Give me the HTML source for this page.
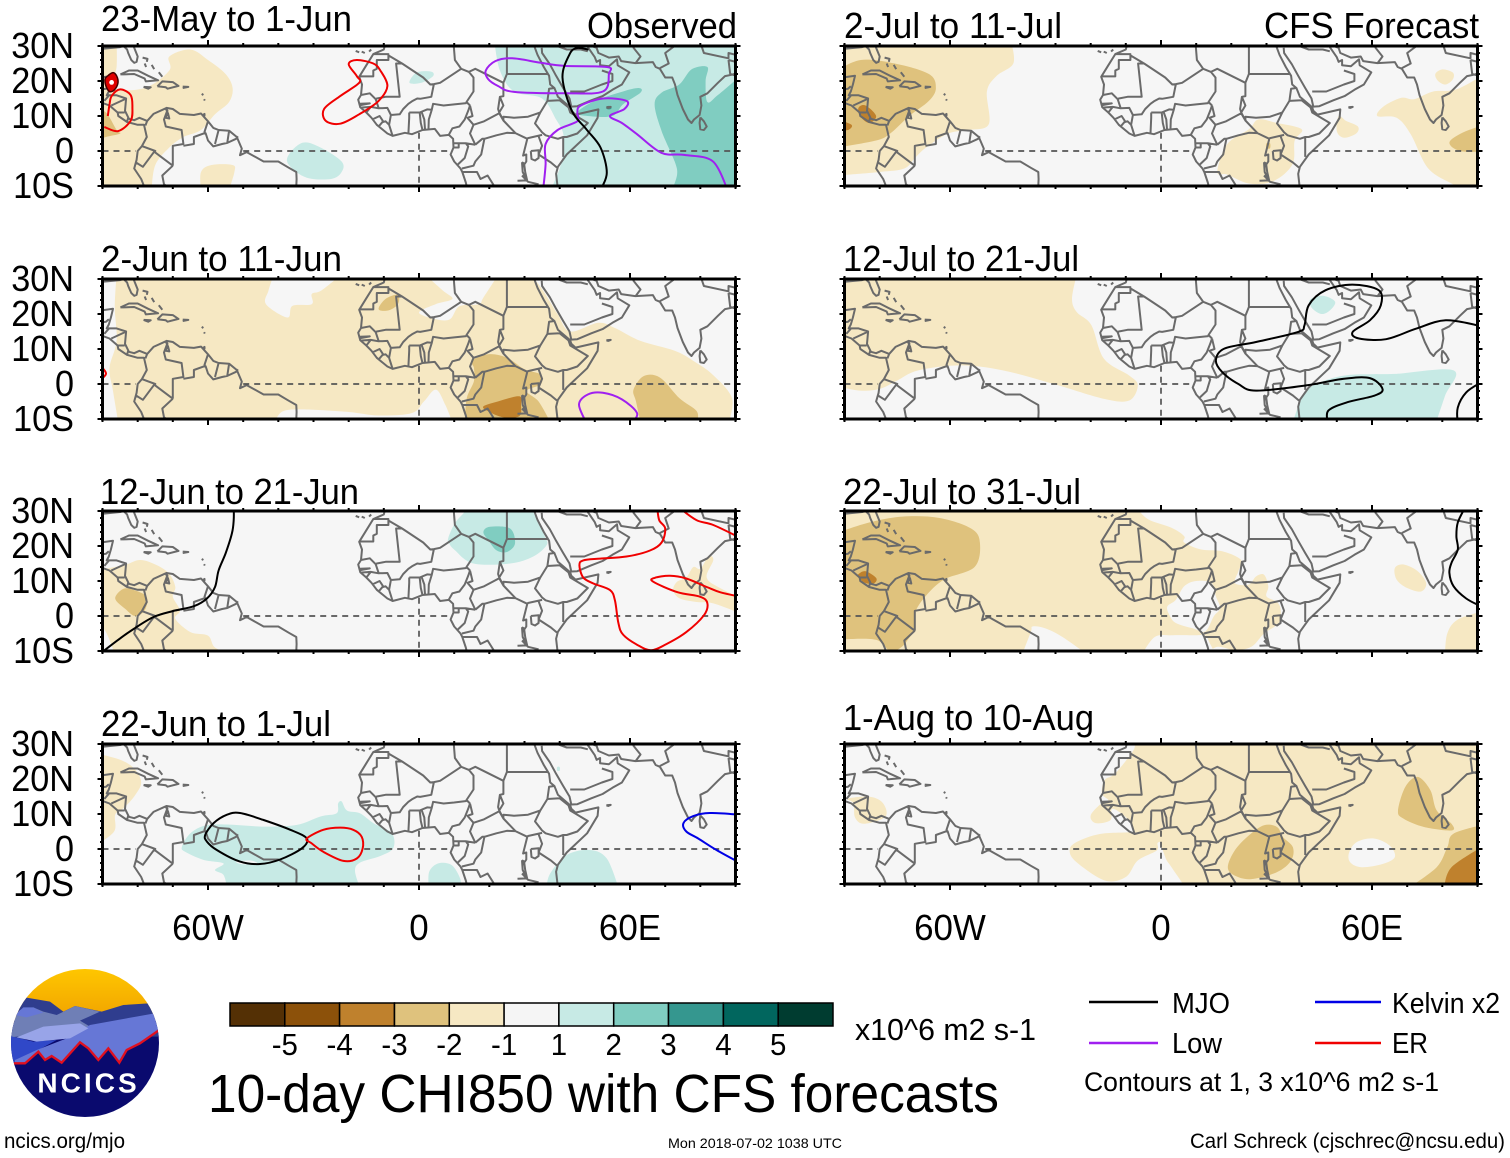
<!DOCTYPE html>
<html lang="en">
<head>
<meta charset="utf-8">
<title>10-day CHI850 with CFS forecasts</title>
<style>
html,body{margin:0;padding:0;background:#fff;}
svg{display:block;font-family:"Liberation Sans",sans-serif;}
</style>
</head>
<body>
<svg id="chart" xmlns="http://www.w3.org/2000/svg" width="1510" height="1158" viewBox="0 0 1510 1158">
  <defs>
    <clipPath id="logo-clip"><circle cx="85" cy="1043" r="74"/></clipPath>
    <linearGradient id="sun-gradient" x1="0" y1="0" x2="0" y2="1">
      <stop offset="0" stop-color="#ffc800"/><stop offset="1" stop-color="#f0a000"/>
    </linearGradient>
  </defs>
  <rect width="1510" height="1158" fill="#fff"/>
  <g id="panels"></g>

  <g font-size="36" fill="#000">
    <text x="101" y="31" textLength="251" lengthAdjust="spacingAndGlyphs">23-May to 1-Jun</text>
    <text x="587" y="38" textLength="150" lengthAdjust="spacingAndGlyphs">Observed</text>
    <text x="101" y="271" textLength="241" lengthAdjust="spacingAndGlyphs">2-Jun to 11-Jun</text>
    <text x="100" y="504" textLength="259" lengthAdjust="spacingAndGlyphs">12-Jun to 21-Jun</text>
    <text x="101" y="736" textLength="230" lengthAdjust="spacingAndGlyphs">22-Jun to 1-Jul</text>
    <text x="844" y="38" textLength="218" lengthAdjust="spacingAndGlyphs">2-Jul to 11-Jul</text>
    <text x="1264" y="38" textLength="215" lengthAdjust="spacingAndGlyphs">CFS Forecast</text>
    <text x="843" y="271" textLength="236" lengthAdjust="spacingAndGlyphs">12-Jul to 21-Jul</text>
    <text x="843" y="504" textLength="238" lengthAdjust="spacingAndGlyphs">22-Jul to 31-Jul</text>
    <text x="843" y="730" textLength="251" lengthAdjust="spacingAndGlyphs">1-Aug to 10-Aug</text>
  </g>

  <g id="colorbar"></g>
  <text x="855" y="1040" font-size="31" textLength="181" lengthAdjust="spacingAndGlyphs">x10^6 m2 s-1</text>
  <text x="208" y="1112" font-size="54" textLength="791" lengthAdjust="spacingAndGlyphs">10-day CHI850 with CFS forecasts</text>

  <g font-size="29">
    <line x1="1089" y1="1002" x2="1158" y2="1002" stroke="#000" stroke-width="2.4"/>
    <text x="1172" y="1013" textLength="58" lengthAdjust="spacingAndGlyphs">MJO</text>
    <line x1="1315" y1="1002" x2="1381" y2="1002" stroke="#0000e6" stroke-width="2.4"/>
    <text x="1392" y="1013" textLength="108" lengthAdjust="spacingAndGlyphs">Kelvin x2</text>
    <line x1="1089" y1="1043" x2="1158" y2="1043" stroke="#a020f0" stroke-width="2.4"/>
    <text x="1172" y="1053" textLength="50" lengthAdjust="spacingAndGlyphs">Low</text>
    <line x1="1315" y1="1043" x2="1381" y2="1043" stroke="#f00000" stroke-width="2.4"/>
    <text x="1392" y="1053" textLength="36" lengthAdjust="spacingAndGlyphs">ER</text>
    <text x="1084" y="1091" font-size="27" textLength="355" lengthAdjust="spacingAndGlyphs">Contours at 1, 3 x10^6 m2 s-1</text>
  </g>

  <text x="4" y="1148" font-size="21" textLength="121" lengthAdjust="spacingAndGlyphs">ncics.org/mjo</text>
  <text x="668" y="1148" font-size="14" textLength="174" lengthAdjust="spacingAndGlyphs">Mon 2018-07-02 1038 UTC</text>
  <text x="1190" y="1148" font-size="21" textLength="315" lengthAdjust="spacingAndGlyphs">Carl Schreck (cjschrec@ncsu.edu)</text>

  <g>
    <g clip-path="url(#logo-clip)">
      <g transform="translate(0,960) scale(0.33333)">
        <rect x="20" y="20" width="470" height="170" fill="url(#sun-gradient)"/>
        <rect x="20" y="180" width="470" height="300" fill="#0a0a6e"/>
        <path fill="#2f3d8e" d="M30 240L60 135 75 112 150 125 190 155 225 138 305 155 370 135 445 130 480 180 480 230 250 230Z"/>
        <path fill="#6f7fb6" d="M32 232L45 170 60 150 100 142 130 155 170 165 225 138 300 155 240 182 270 200 100 225Z"/>
        <path fill="#3048c8" d="M30 228L100 245 170 240 50 305 30 310Z"/>
        <path fill="#6677d6" d="M45 300L110 270 200 235 270 195 380 175 465 160 480 212 420 250 380 272 358 308 325 265 295 300 265 265 240 247 185 308 155 288 135 300 115 275 75 310 45 310Z"/>
        <path fill="#98a4e8" d="M50 232L130 200 240 190 265 205 210 235 110 245Z"/>
        <path fill="#6677d6" d="M45 165L70 142 100 142 130 158 80 172Z"/>
        <path fill="none" stroke="#e01020" stroke-width="7" d="M42 310L75 310 115 275 135 300 155 288 185 308 240 247 265 265 295 300 325 265 358 308 380 270 420 250 478 210"/>
        <text x="112" y="398" font-size="84" font-weight="bold" fill="#fff" textLength="298" lengthAdjust="spacing">NCICS</text>
      </g>
    </g>
  </g>
</svg>

<script>
// ---------- axis values ----------
const lonTicks = [-60, 0, 60];
const lonTickLabels = ['60W', '0', '60E'];
const latTicks = [30, 20, 10, 0, -10];
const latTickLabels = ['30N', '20N', '10N', '0', '10S'];
const colorbarLabels = ['-5', '-4', '-3', '-2', '-1', '1', '2', '3', '4', '5'];
const colorbarColors = ['#543005', '#8c510a', '#bf812d', '#dfc27d', '#f6e8c3', '#f5f5f5', '#c7eae5', '#80cdc1', '#35978f', '#01665e', '#003c30'];
const equatorSegments = [[-90, -80.5], [-50, 9], [43, 90]];
const meridianSegment = [5.2, -10];

// ---------- geography (lon, lat) ----------
const coastAmericasNorth = [[-94,29.7],[-90,29.2],[-85,29.7],[-84,30],[-83,29],[-82.7,28],[-81.8,26],[-81,25.2],[-80.3,25.5],[-80,27],[-81,29.5],[-81.4,31]];
const coastCentralCarib = [[-97,22],[-96,19],[-94.5,18.2],[-91,18.6],[-90.4,21],[-87,21.5],[-87.6,19],[-88.2,17],[-88.8,15.9],[-86,15.9],[-83.3,15],[-83.6,11.5],[-82.5,9.2],[-81,8.8],[-79.5,9.5],[-77.3,8.6],[-75.5,10.6],[-72,12.2],[-71.5,10.9],[-71.8,12.3],[-70,12],[-68,10.6],[-64,10.3],[-62,10.7],[-61,9.6],[-60,8.5],[-58.5,6.6],[-57,6],[-54,5.8],[-51.8,4],[-50.4,0.7],[-50.9,-1.2],[-49,-0.3],[-44.2,-3],[-40,-3],[-37,-4.8],[-34.9,-6],[-34.8,-8],[-34.9,-10],[-37,-12]];
const coastPacificAmerica = [[-97,16],[-94,16.1],[-92,14.5],[-88,13],[-85.7,11],[-85.5,10],[-83,8.3],[-80,7.5],[-78.2,7.5],[-77.4,4],[-78.8,1.4],[-80,0],[-80.3,-2.5],[-81,-5],[-79,-8],[-78,-10.5]];
const coastAfricaWest = [[-9.5,31],[-10,29],[-13,27.7],[-15,24.5],[-17,21.2],[-16.2,19],[-16.5,16],[-17.3,14.7],[-16.7,12.5],[-15,11],[-13.5,9.5],[-12,7.5],[-9,5],[-7.5,4.3],[-4,5.2],[-2,4.8],[1,6],[4.5,6.3],[6,4.3],[8.5,4.6],[9.7,3.5],[9.8,1],[9,-1],[10,-3],[11.8,-5],[12.3,-6],[13.3,-9],[13.8,-11]];
const coastAfricaEast = [[32.6,30.5],[33.7,27.5],[35.5,24],[37,21.5],[37.3,19],[38.5,18],[39.5,15.5],[43,12.5],[43.3,11.5],[44.5,10.4],[51,11.9],[50.8,9.5],[47.8,4.5],[42,-1],[39.5,-4.5],[39,-6.5],[39.5,-11]];
const coastArabia = [[34.9,29.5],[35,28],[37.2,24.8],[39,21.5],[41,18],[42.8,15],[43.3,12.7],[45,12.8],[49,14.5],[52.2,15.7],[55,17.5],[57.7,19],[59.8,22.5],[56.5,24.5],[56.3,26.2],[54,24.2],[51.5,24.5],[51.5,26],[50.5,25.5],[50,26.8],[48,29.7]];
const coastIranIndia = [[48.5,30.2],[50.5,29.5],[51,28],[54,26.7],[56.8,27],[57.5,25.7],[61.5,25.1],[66.5,25.4],[67.3,24],[68.5,23.5],[70,21],[72,21],[72.8,19],[73.5,16],[75,12],[76.5,9],[77.5,8],[78.2,9],[79.8,10.3],[80.3,13],[80,15.5],[82,16.5],[85,19.5],[87,21.4],[89,21.8],[91,22.5],[92,21],[94,18],[94.5,16]];
const islandSriLanka = [[80,9.6],[81,8.5],[81.8,7],[81,6],[80,6.2],[79.8,8],[80,9.6]];
const islandCuba = [[-84.9,21.9],[-82.5,23],[-80,23],[-77,21.5],[-74.2,20.2],[-77.7,19.9],[-78,20.7],[-81,22],[-84,21.9],[-84.9,21.9]];
const islandJamaica = [[-78.3,18.3],[-76.3,18.2],[-77,17.8],[-78.3,18.3]];
const islandHispaniola = [[-74.4,18.5],[-73,19.9],[-70,19.7],[-68.4,18.6],[-71.5,17.8],[-72,18.2],[-74.4,18.5]];
const islandPuertoRico = [[-67.2,18.4],[-65.6,18.3],[-67.2,18]];
const islandBahamas1 = [[-78.6,26.7],[-77.2,26.3],[-77.4,25.5]];
const islandBahamas2 = [[-78,25],[-77.6,24]];
const islandBahamas3 = [[-76,24.6],[-75.3,23.4]];
const islandBahamas4 = [[-74,22.5],[-73,21.2]];
const islandAntilles1 = [[-61.8,16.3],[-61.3,16]];
const islandAntilles2 = [[-61.1,14.8],[-60.9,14.4]];
const islandTrinidad = [[-61.6,10.2],[-61,10.6],[-61,10.1],[-61.6,10.2]];
const islandCanary1 = [[-18,28.6],[-17,28.2]];
const islandCanary2 = [[-16.3,28.4],[-15.4,28]];
const islandCanary3 = [[-14.2,28.4],[-13.6,29]];
const islandSocotra = [[53.3,12.5],[54.5,12.6],[53.8,12.3],[53.3,12.5]];
const lakeMaracaibo = [[-71.5,10.9],[-72,9.5],[-71,9.3],[-71.4,10.9]];
const lakeVictoria = [[31.8,0],[34,0.2],[34,-2],[33,-2.7],[32,-2.3],[31.8,0]];
const lakeTanganyika = [[29.3,-3.2],[29.5,-6],[30.8,-8.6],[30.2,-6],[29.9,-3.6],[29.3,-3.2]];
const borderList = [
  [[-13,27.7],[-8.7,27.7],[-8.7,26],[-12,26],[-12,23.5],[-13,23],[-13,21.3],[-17,21.3]],
  [[-8.7,27.3],[-4.8,25],[-6.5,25],[-5.5,15.5],[-9.5,15.5],[-12,15],[-12.3,14.8],[-14,16.5],[-16.5,16]],
  [[-4.8,25],[1.2,21],[3.2,19],[4.2,19.1],[6,19.5],[12,23.5],[10.2,26],[9.8,31]],
  [[12,23.5],[14.2,22.6],[15.5,21],[15.5,17],[13.5,14],[14.5,13]],
  [[14.2,22.6],[16,23.5],[24,19.5],[24,15.7],[23,15.5],[22.5,12],[22.8,11],[24,8.7]],
  [[25,31],[25,22],[24,19.5]],
  [[25,22],[36.8,22]],
  [[4.2,19],[3.5,15.5],[0.3,14.9],[-0.5,15],[-2,14.2],[-3,13.5],[-4.5,12],[-5.5,10.5],[-8,10.3]],
  [[3.6,11.7],[4,13.5],[7,13],[10,13.3],[13.5,13.7]],
  [[2.7,6.4],[2.8,9],[3.6,11.7]],
  [[8.5,4.7],[9.5,6.5],[11.5,7],[13,9],[14,11.5],[14.5,13]],
  [[-3,5],[-2.8,9.5],[-2.8,11]],
  [[1,6],[0.5,8],[0.2,11]],
  [[-2.8,11],[0.2,11],[2.3,11.9],[3.6,11.8]],
  [[1.7,6.2],[1.5,9],[0.8,11]],
  [[-7.5,4.3],[-8.5,7.5],[-8,10.3]],
  [[-13.3,9],[-11.2,10],[-10.2,8.5],[-11.5,7]],
  [[-8.5,7.5],[-9.5,8.5],[-10.3,8.3]],
  [[-13.7,12.6],[-11.5,12.2],[-9,12.3],[-8,10.3]],
  [[-16.8,13.5],[-14,13.6],[-16.7,13.1]],
  [[-16.7,12.4],[-13.7,12.6],[-15,11]],
  [[-12.3,14.8],[-11.5,12.3]],
  [[14.5,13],[15.2,10],[13.8,9.5],[15.5,7.5],[14.5,5],[16,1.8]],
  [[15.5,7.5],[18.5,8.5],[22.8,10.8]],
  [[9.8,2.2],[13.3,2.2],[16,1.8]],
  [[9.8,1],[11.3,1],[11.3,2.2]],
  [[13.3,2.2],[14,1.3],[13,-2],[11,-3.9]],
  [[16,1.8],[18,3.5],[18.6,3.5],[17.7,-1],[16,-3],[15.5,-4.2],[12.2,-5]],
  [[18.6,3.5],[22,4.5],[25,5.2],[27.4,5.1],[30.8,3.5],[29.6,-1.3],[30.5,-1],[30.5,-3],[29.5,-4.5]],
  [[22.8,10.8],[24,8.7],[27.4,5.1]],
  [[24,8.7],[24,9.8],[27,9.5],[31,9.8],[33,10.5],[34.5,11]],
  [[23,15.5],[24,13],[22.8,11]],
  [[36.5,14.3],[34.5,11],[33,7.9],[35,5.3],[36,4.5],[39.5,3.5],[41,4],[42,4],[45,5],[48,8],[43,11],[42.5,12.5],[40,14.5],[36.5,14.3]],
  [[36.5,14.3],[37,17.8],[38.5,18]],
  [[41,3.9],[41,-1.7]],
  [[34,4.2],[35,1.5],[34,-1]],
  [[34,-1],[37.5,-3.3],[39.2,-4.7]],
  [[35,4.6],[31,3.7],[30.8,3.5]],
  [[29.3,-7],[31,-8.8],[34,-9.5]],
  [[12.2,-6],[16.5,-6],[17.5,-8],[19.5,-7],[22,-11]],
  [[22,-11],[24,-11],[28,-12]],
  [[28,-8.5],[30.8,-8.4]],
  [[-71.5,11.8],[-72.5,9],[-72,7],[-67.5,6],[-67,2],[-70,1.5],[-70,-4.2]],
  [[-77.3,8.6],[-77.8,7.3]],
  [[-78.8,1.4],[-75,0],[-75.3,-0.2]],
  [[-80.3,-3.4],[-78.5,-4.5],[-75.3,-0.2]],
  [[-75.3,-0.2],[-70,-4.2]],
  [[-70,-4.2],[-73,-7],[-72.5,-9.5],[-70.5,-11]],
  [[-60,8.5],[-61,5.5],[-60.7,5.2]],
  [[-60.7,5.2],[-64,4],[-64,2],[-67,1.5]],
  [[-60.7,5.2],[-60,3],[-58.5,1.3],[-56,2],[-54.5,2.3],[-52,3.5],[-51.5,4.2]],
  [[-57,6],[-58,2]],
  [[-54,5.8],[-54.5,2.4]],
  [[-92,14.5],[-91,17.5],[-89,17.8],[-88.2,18.5]],
  [[-88.2,15.8],[-89.5,14.3]],
  [[-83.2,15],[-87.5,13]],
  [[-85.7,11],[-83.7,11]],
  [[-83,8.5],[-82.7,9.5]],
  [[43,17],[47,17],[52,19],[55,20],[55,22],[52,23]],
  [[38,30.5],[42,29],[46,29],[48,28.5]],
  [[68.5,23.7],[71,25],[70,28],[74,31]],
  [[61.5,25],[63,27],[61,29.5],[61,31]],
  [[80,31],[81,28],[88,26.5],[88,28],[92,27],[96,28.5]],
  [[88,26],[88.5,22],[92,21],[92.5,24],[90,25.5],[88,26]],
  [[92.5,24],[94,24],[94,28]]
];

// ---------- 23-May to 1-Jun ----------
const mayTanCarib = [[-92,31],[-86,31],[-86,24],[-87,18],[-78,18],[-71,23],[-71,27],[-65,29],[-60,26],[-55,22],[-53,18],[-54,14],[-58,10.5],[-62,6],[-67,4],[-71,1],[-75,-4],[-76,-11],[-92,-11]];
const mayTanDarkCarib = [[-92,12],[-89,11],[-86,6],[-85,5],[-89,4],[-92,3]];
const mayTanBrazil = [[-62,-11],[-62,-6],[-59,-4],[-53,-4],[-52.5,-6],[-54,-11]];
const mayTealAtlantic = [[-37,-1],[-33,2.4],[-28,1],[-22,-3],[-22,-6],[-25,-8],[-32,-7.6],[-37,-4]];
const mayTealSahara = [[-2.7,19.5],[-0.7,22.4],[3.4,22.7],[4,21.4],[0.7,19.5]];
const mayTealEast = [[21.5,31],[23,23],[27,17],[35,15],[39,9],[41,5],[41,0],[40,-5],[37.5,-11],[92,-11],[92,31]];
const mayTeal2India = [[92,22],[85,16],[82,14],[81.5,20],[82,24],[77.5,23.3],[74,19],[69,16.7],[67,13.3],[69,5.7],[72.7,-3],[73.4,-6.7],[72,-11],[92,-11]];
const mayTeal2Arabian = [[45,11],[50,14.3],[58,17],[62.5,18],[63,16.7],[58,13.3],[55,10],[48,10]];
const mayTeal3Spot = [[53.4,12.8],[54.6,12.8],[54.6,12],[53.4,12]];
const mayErAtlantic = [[-20,24.8],[-17.7,26],[-13,25],[-11,23],[-9,18.6],[-11.5,14.3],[-17,10.5],[-22.4,7.8],[-26.5,8.6],[-27,12],[-22.4,15.7],[-17,19.5],[-17.7,21.4],[-20,24.8]];
const mayErCarib = [[-89.5,6.9],[-85.6,5.7],[-82,8.6],[-81.5,12.4],[-82,16],[-85,17.6],[-87.4,15.7],[-88,13.3],[-88.5,10]];
const mayErCore = [[-88.5,21.5],[-87,22.4],[-86,21.5],[-85.6,19.5],[-86.6,17.5],[-88,17],[-89,18.5],[-89.3,20.5],[-88.5,21.5]];
const mayLowNorth = [[19,23],[21.7,25.7],[26.5,26.5],[34.6,25.2],[41.4,24.3],[53.5,24],[54,22],[52.3,17],[41.4,16.5],[27,16.9],[22.4,18.6],[19.7,20.5],[19,23]];
const mayLowSouth = [[35.3,-11],[36,-3.8],[36,2],[39.4,6],[45,8.5],[45,11],[46,13],[52.3,15],[59,14.3],[58.4,12],[54.3,10],[57.7,8],[62,4.8],[68.9,-0.5],[75.4,-1.1],[83.5,-2.9],[87.6,-11]];
const mayMjo = [[51.6,-11],[53.4,-6.2],[51.6,1],[47.6,6.2],[43.5,11.4],[40.8,21],[42.8,27.6],[44.8,29.4],[48.2,29]];

// ---------- 2-Jun to 11-Jun ----------
const junATan = [[-86,31],[-86.5,22],[-86,12.3],[-88,4.6],[-87,-2],[-85.5,-11],[-41,-11],[-38.7,-7.8],[-32,-7.3],[-20,-8],[-11.5,-9],[-2,-8.3],[1.4,-5],[4.8,-1.6],[7.5,-6],[9.5,-11],[88,-11],[89,-4],[83.5,2.7],[78,6.6],[72.7,9.5],[63,12.3],[55.7,16],[51,17.5],[43,15],[39.4,20],[35.3,26.7],[32,31],[22.4,31],[18.3,24.7],[17,22.8],[11.5,22.2],[8.8,18.5],[4.8,18.5],[0,20.4],[4.7,22.8],[9.5,24.3],[6.8,26.7],[2,31],[-22.4,31],[-27.8,26.7],[-30.5,25.7],[-30.5,22.8],[-36,22.3],[-37.4,19],[-43.5,22.8],[-42.8,26.7],[-41.4,31]];
const junASahara = [[-11.5,21.4],[-9.5,24.3],[-6,25.5],[-6,22.8],[-8.8,21]];
const junACongo = [[15.6,4.6],[15,6.6],[19.7,8.5],[25,7.5],[30,4.2],[34.6,2.7],[34.6,-0.1],[30.6,-2],[34,-5],[37.4,-11],[13,-11],[13.6,-4],[15.6,0.8]];
const junACongoCore = [[18.3,-6.4],[22.4,-5],[28.5,-3.5],[29,-6],[28.5,-9.2],[23.8,-9.5],[19.7,-7.8]];
const junAIndian = [[61,-1.6],[64,2.3],[68.6,1.8],[74,-4],[79,-7.8],[79,-11],[63,-11],[61.7,-5]];
const junALow = [[47.6,-11],[45.5,-5.9],[48,-3],[52.3,-2.5],[57.7,-4.4],[62,-8.3],[60.5,-11]];
const junAEr = [[-91,5.5],[-89,3],[-91,1]];

// ---------- 12-Jun to 21-Jun ----------
const junBTanAmerica = [[-92,13],[-84,14.5],[-79.3,16],[-74.5,14.5],[-71,12],[-69.3,8.3],[-70,5.5],[-68,1.6],[-69.3,-0.8],[-65,-4.6],[-60,-5.6],[-58,-9],[-53,-11],[-86.5,-11],[-89,-4.6],[-92,-1.3]];
const junBTanDark = [[-86.4,5],[-84,7.8],[-80.7,7.3],[-77.4,5.4],[-78,1.6],[-80.7,0],[-83.5,2]];
const junBTealSahara = [[8.3,22.2],[10.2,26.5],[12.6,29.3],[14,31],[32,31],[33.5,27.4],[35.8,22.7],[36.3,20.3],[32.5,17],[25.9,15],[15.5,15],[10.2,18.8],[8.6,20.7]];
const junBTeal2 = [[18.3,24],[20.2,25.5],[25.9,25],[27.3,20.7],[25,18.3],[22,18.8],[19.7,21.7]];
const junBTanIndia = [[72.3,7.3],[73.3,9.7],[76,11],[78,14],[80,13.5],[82.3,17],[83.7,16],[81.8,11],[85.6,8],[92,5],[92,0.5],[83.7,3.6],[79,4],[74.2,5]];
const junBMjo = [[-91,-11],[-85,-6.4],[-81,-3.6],[-75.5,-0.3],[-70,1.4],[-64,2.8],[-60.3,5],[-58,8.3],[-57,13],[-55,17.9],[-53.2,23.6],[-52.7,27.4],[-52.7,31]];
const junBErMain = [[67.8,31],[68.3,27.4],[70,25],[69,21],[65.7,18.7],[59,17],[51.5,16.4],[46.7,15.9],[45.6,14.5],[46.7,11],[49.6,9.3],[54.3,7.4],[55.7,4.5],[56.7,-2],[58,-5.3],[62,-8.2],[66,-9.8],[70.4,-8],[76,-4.6],[81,0.2],[82,3.6],[80,5.5],[73.5,6.8],[66.6,9.8],[67,10.9],[71.4,11.5],[76,10.7],[81.8,8.3],[85.6,6.8],[91,5.6]];
const junBErNorth = [[74,31],[78.9,27.4],[83.7,26],[91,22.5]];

// ---------- 22-Jun to 1-Jul ----------
const junCTanCarib = [[-92,27.4],[-85,25.5],[-81,23],[-79,19],[-81,15],[-84,11.7],[-86.4,9.8],[-86.7,5],[-92,1]];
const junCTealMain = [[-67.4,0.7],[-65,4.5],[-60.8,6.7],[-54.6,7],[-44,6.4],[-34.7,6.9],[-28,9.3],[-23.4,10.2],[-23,13],[-22,13.6],[-20.5,11],[-16.8,10.2],[-13,7.4],[-7.8,4.6],[-7.3,0.3],[-11,-2],[-16.8,-3.9],[-18.2,-6.3],[-16.8,-11],[-54.6,-11],[-55.6,-7.4],[-58,-6],[-55.6,-4.1],[-61.3,-3.1],[-66.5,-0.8]];
const junCTealGabon = [[2.8,-11],[2.9,-6.5],[5.5,-4.1],[9.3,-4.6],[11.7,-8.4],[11.8,-11]];
const junCTealKenya = [[36.3,-11],[37.3,-7],[42,-1.7],[48.6,-0.3],[53.4,-2.7],[56.7,-11]];
const junCTealRedSea = [[39.3,23.4],[40,23.4],[40,22.4],[39.3,22.4]];
const junCWhiteNotch = [[-52,-3.6],[-48,-3.3],[-46,-4.1],[-50,-4.4]];
const junCMjo = [[-60.8,4],[-58.4,7.4],[-54.6,9.8],[-50.9,10.3],[-44.2,8.3],[-36.6,5.5],[-31.9,3],[-33.3,0.2],[-39.5,-3],[-45.2,-4.3],[-50.9,-3.6],[-57.5,-0.3],[-60.3,2.1],[-60.8,4]];
const junCEr = [[-31.9,3],[-27.2,5.5],[-22.4,6.1],[-18.7,5.5],[-16.3,3.5],[-16,0.2],[-17.7,-2.7],[-21.5,-3.4],[-27.2,-0.8],[-30.5,1.6],[-31.9,3]];
const junCKelvin = [[91,9.8],[82.7,10.3],[78,9.4],[75.2,7.4],[76,5],[79.4,3],[84.6,-0.3],[91,-3.8]];

// ---------- 2-Jul to 11-Jul ----------
const julATanCarib = [[-92,31],[-42.6,31],[-42,25],[-46.8,21.4],[-49.5,17],[-49,7.6],[-55,6],[-60.5,5],[-66.8,1],[-70,-2],[-73,-5],[-80,-6],[-92,-7]];
const julADarkCarib = [[-92,23],[-85.4,26],[-75.7,25],[-66,22],[-64,18],[-66,14.3],[-71.6,10],[-77,5],[-81,3],[-92,1]];
const julACoreCarib = [[-86,12.4],[-84,13],[-81,10],[-83,8],[-85.6,10]];
const julACoreEdge = [[-92,9],[-88,7.5],[-89,6],[-92,6]];
const julATanAfrica = [[16,-6],[18.8,1.9],[25,6.2],[27.7,9],[33,8],[40,6.2],[38,2.9],[37.4,-3.8],[32,-8.6],[25,-9.3],[18.8,-6.7]];
const julADarkSpot = [[30,2.2],[31,2.2],[31,0.8],[30,0.8]];
const julATanSomali = [[50.5,10],[52.6,8.6],[56,7],[55.5,5],[52,3.8],[50,5.7]];
const julATanIndian = [[61.5,10],[63.5,12.9],[68.4,15.2],[72,14.8],[77.4,17],[84,17.6],[92,22],[92,-11],[85,-11],[83,-9.5],[76,-5],[71,4.8],[67,9.5]];
const julATanBengal = [[78,22],[80,23.3],[83,22.4],[83,20.5],[81,19],[78.8,20]];
const julADarkIndian = [[82,2.4],[85.7,5.2],[92,7.5],[92,-0.2],[85,0]];

// ---------- 12-Jul to 21-Jul ----------
const julBTan = [[-92,31],[-24,31],[-25.3,24.4],[-24,20.6],[-19.8,16.8],[-16.2,7.2],[-9,2.4],[-6.6,-0.4],[-9,-4.7],[-16,-4.3],[-30.5,0],[-45,3.9],[-57,5.3],[-69,3.9],[-75,1],[-80,-1.4],[-85.6,-1.9],[-92,-0.6]];
const julBTealSouth = [[37.5,-11],[39.5,-5.2],[42.5,-0.9],[52,2.4],[66.5,2.9],[83.2,3.9],[80.8,-3.3],[78.2,-11]];
const julBTealArabia = [[42.3,24],[46,25.2],[49.5,23.5],[48,21],[45.6,20],[43,21.6]];
const julBMjoMain = [[47.5,-11],[47.6,-7.6],[53,-5.2],[60.8,-3.3],[63,-1.4],[59.4,1.7],[52,1.5],[41.3,-0.4],[27,-1.9],[22,0],[17.4,3.4],[15.6,6.8],[18,10.1],[27,12],[39,14.9],[40.8,16.8],[42,22.5],[46.8,26.8],[54.4,28.4],[61.9,26.8],[62.5,22.5],[59.4,18.2],[54.5,14.9],[56.3,13],[64,12.8],[72.5,15.8],[81,18.2],[91,16.5]];
const julBMjoEdge = [[84.4,-11],[84.4,-6.7],[86.8,-2.4],[91,0.4]];

// ---------- 22-Jul to 31-Jul ----------
const julCTanMain = [[-92,31],[-7,31],[-3.6,27.6],[3,25.2],[6.6,22.8],[6.6,21],[11.4,19],[17.4,18.5],[22.8,16],[22,12.8],[21,9.4],[25,9],[27,11.3],[29.3,11.8],[30.5,8.5],[30,5.6],[33,4],[34,1.8],[33.5,-2],[29.3,-5],[25.7,-8.8],[21,-9.7],[16,-8.8],[13,-11],[-92,-11]];
const julCWhiteSouth = [[-5.4,-11],[-1.8,-6],[3,-5.5],[10,-5.5],[12.5,-5.5],[14,-8],[15.5,-11]];
const julCWhiteCentral = [[1.8,2.7],[4.2,4.6],[6.6,8.5],[10,10],[14.4,9.4],[15.6,5.6],[16.8,2.2],[15,-0.1],[12.6,-4.4],[9,-3.5],[4.2,-2],[2.4,0.3]];
const julCWhiteBrazil = [[-39.5,-11],[-37,-4.5],[-36.5,-3],[-33,-3.5],[-28,-6],[-21,-11]];
const julCDark = [[-92,23.8],[-83,26.7],[-73.6,28.4],[-63,28],[-54,25],[-51.5,21],[-53,14],[-61.7,10.4],[-67,5.6],[-70,0.8],[-70,-3.5],[-72,-6.8],[-73.6,-8.7],[-77,-11],[-81,-6.8],[-92,-6.8]];
const julCCore = [[-86,12],[-84,12.8],[-81,10.9],[-81.5,9.4],[-84,9.4],[-86,11]];
const julCTanIndian = [[66.5,13.7],[69,14.7],[73,12.8],[75.4,9.4],[74,7],[70,8],[67,10.4]];
const julCTanEdge = [[80.8,-11],[81.4,-5],[84.4,-1],[92,1.5],[92,-11]];
const julCMjo = [[86.5,31],[84.4,26.7],[84,22.8],[84.4,19],[82.6,15.2],[82,12.3],[83.2,8.5],[86.8,5],[91,2.8]];

// ---------- 1-Aug to 10-Aug ----------
const augTanMain = [[-7.8,31],[-7.8,28.3],[-13,21.6],[-16,19.7],[-16.8,15.8],[-15,14],[-17,13],[-20,9.6],[-18.6,7.4],[-14.4,8.2],[-13.8,11.5],[-9.6,8.7],[-7.8,5.3],[-9,4.8],[-17.4,4.3],[-24,2],[-26,-0.4],[-24,-3.8],[-16,-9],[-10,-8],[-6.6,-3.3],[-1.2,-0.4],[-0.6,2],[5.4,2],[5.4,3],[0,3.4],[1.2,-2.3],[3,-5.2],[7,-11],[92,-11],[92,31]];
const augWhiteOcean = [[53.5,-1],[55.7,2],[60.5,3],[65,1],[66.5,-2.3],[63,-4.3],[57,-5.2],[53.8,-3.8]];
const augTanCarib = [[-89,14.4],[-82.6,14.9],[-79,13],[-78.4,9.2],[-84.4,7.2],[-87,9],[-87.4,13]];
const augDarkAfrica = [[19,-5.2],[21,-0.4],[25,3.9],[29.3,6.8],[33,6.3],[34.7,3.4],[37.5,0.5],[37,-3.3],[33,-6.6],[25.7,-8.6],[21,-7.6]];
const augDarkIndia = [[67.4,11],[69.5,17.8],[73,20.6],[76.6,16.8],[78.4,11],[82.6,7.2],[82.6,5.3],[74.8,6.3],[68.9,8.7]];
const augDarkEdge = [[70.5,-11],[78.4,-5.2],[81.4,0.5],[83.2,4.4],[92,7],[92,-11]];
const augCoreEdge = [[80.6,-11],[82.6,-5.2],[92,1],[92,-11]];

// ---------- panels: level index points into colorbarColors ----------
const TAN = 4, TAN2 = 3, TAN3 = 2, BG = 5, TEAL = 6, TEAL2 = 7, TEAL3 = 8;
const panelSeries = [
  {col:0,row:0,fills:[[TAN,mayTanCarib],[TAN2,mayTanDarkCarib],[TAN,mayTanBrazil],[TEAL,mayTealAtlantic],[TEAL,mayTealSahara],[TEAL,mayTealEast],[TEAL2,mayTeal2India],[TEAL2,mayTeal2Arabian],[TEAL3,mayTeal3Spot]],
   lines:[['#f00000',mayErAtlantic],['#f00000',mayErCarib],['#a020f0',mayLowNorth],['#a020f0',mayLowSouth],['#000',mayMjo]],core:mayErCore},
  {col:0,row:1,fills:[[TAN,junATan],[TAN2,junASahara],[TAN2,junACongo],[TAN3,junACongoCore],[TAN2,junAIndian]],lines:[['#a020f0',junALow],['#f00000',junAEr]]},
  {col:0,row:2,fills:[[TAN,junBTanAmerica],[TAN2,junBTanDark],[TEAL,junBTealSahara],[TEAL2,junBTeal2],[TAN,junBTanIndia]],lines:[['#000',junBMjo],['#f00000',junBErMain],['#f00000',junBErNorth]]},
  {col:0,row:3,fills:[[TAN,junCTanCarib],[TEAL,junCTealMain],[BG,junCWhiteNotch],[TEAL,junCTealGabon],[TEAL,junCTealKenya],[TEAL,junCTealRedSea]],lines:[['#000',junCMjo],['#f00000',junCEr],['#0000e6',junCKelvin]]},
  {col:1,row:0,fills:[[TAN,julATanCarib],[TAN2,julADarkCarib],[TAN3,julACoreCarib],[TAN3,julACoreEdge],[TAN,julATanAfrica],[TAN2,julADarkSpot],[TAN,julATanSomali],[TAN,julATanIndian],[TAN,julATanBengal],[TAN2,julADarkIndian]],lines:[]},
  {col:1,row:1,fills:[[TAN,julBTan],[TEAL,julBTealSouth],[TEAL,julBTealArabia]],lines:[['#000',julBMjoMain],['#000',julBMjoEdge]]},
  {col:1,row:2,fills:[[TAN,julCTanMain],[BG,julCWhiteSouth],[BG,julCWhiteCentral],[BG,julCWhiteBrazil],[TAN2,julCDark],[TAN3,julCCore],[TAN,julCTanIndian],[TAN,julCTanEdge]],lines:[['#000',julCMjo]]},
  {col:1,row:3,fills:[[TAN,augTanMain],[BG,augWhiteOcean],[TAN,augTanCarib],[TAN2,augDarkAfrica],[TAN2,augDarkIndia],[TAN2,augDarkEdge],[TAN3,augCoreEdge]],lines:[]}
];
const openCoasts = [coastAmericasNorth,coastCentralCarib,coastPacificAmerica,coastAfricaWest,coastAfricaEast,coastArabia,coastIranIndia,islandSriLanka,islandCuba,islandJamaica,islandHispaniola,islandPuertoRico,islandBahamas1,islandBahamas2,islandBahamas3,islandBahamas4,islandAntilles1,islandAntilles2,islandTrinidad,islandCanary1,islandCanary2,islandCanary3,islandSocotra,lakeMaracaibo,lakeVictoria,lakeTanganyika];

// ---------- axis functions ----------
const SVGNS = 'http://www.w3.org/2000/svg';
function panelLeft(col){ return col === 0 ? 102.5 : 844.5; }
function panelTop(row){ return [46, 279, 511, 744][row]; }
function lonToX(lon, col){ return panelLeft(col) + (lon + 90) * 633 / 180; }
function latToY(lat, row){ return panelTop(row) + (30 - lat) * 3.5; }
function f(n){ return n.toFixed(1); }

function outside(p){ return p[0] < -90 || p[0] > 90 || p[1] < -10 || p[1] > 30; }
function smoothPath(pts, col, row, closed){
  const n = pts.length;
  const xy = pts.map(p => [lonToX(p[0], col), latToY(p[1], row)]);
  const tangent = i => {
    if (outside(pts[i])) return [0, 0];
    const a = closed ? xy[(i - 1 + n) % n] : xy[Math.max(i - 1, 0)];
    const b = closed ? xy[(i + 1) % n] : xy[Math.min(i + 1, n - 1)];
    return [(b[0] - a[0]) / 6, (b[1] - a[1]) / 6];
  };
  let d = 'M' + f(xy[0][0]) + ' ' + f(xy[0][1]);
  const segs = closed ? n : n - 1;
  for (let i = 0; i < segs; i++) {
    const j = (i + 1) % n, t0 = tangent(i), t1 = tangent(j);
    d += 'C' + f(xy[i][0] + t0[0]) + ' ' + f(xy[i][1] + t0[1]) + ' ' + f(xy[j][0] - t1[0]) + ' ' + f(xy[j][1] - t1[1]) + ' ' + f(xy[j][0]) + ' ' + f(xy[j][1]);
  }
  return d + (closed ? 'Z' : '');
}
function straightPath(pts, col, row){
  return 'M' + pts.map(p => f(lonToX(p[0], col)) + ' ' + f(latToY(p[1], row))).join('L');
}

function drawPanel(series, index){
  const root = document.getElementById('panels');
  const col = series.col, row = series.row;
  const x0 = panelLeft(col), y0 = panelTop(row);

  const group = document.createElementNS(SVGNS, 'g');
  
  
  root.appendChild(group);

  const clip = document.createElementNS(SVGNS, 'clipPath');
  clip.setAttribute('id', 'clip-' + index);
  const clipRect = document.createElementNS(SVGNS, 'rect');
  clipRect.setAttribute('x', x0);
  clipRect.setAttribute('y', y0);
  clipRect.setAttribute('width', 633);
  clipRect.setAttribute('height', 140);
  clip.appendChild(clipRect);
  group.appendChild(clip);

  const bg = document.createElementNS(SVGNS, 'rect');
  
  
  bg.setAttribute('x', x0);
  bg.setAttribute('y', y0);
  bg.setAttribute('width', 633);
  bg.setAttribute('height', 140);
  bg.setAttribute('fill', '#f6f6f6');
  group.appendChild(bg);

  const inner = document.createElementNS(SVGNS, 'g');
  inner.setAttribute('clip-path', 'url(#clip-' + index + ')');
  group.appendChild(inner);

  series.fills.forEach(item => {
    const el = document.createElementNS(SVGNS, 'path');
    
    
    el.setAttribute('d', smoothPath(item[1], col, row, true));
    el.setAttribute('fill', item[0] === BG ? '#f6f6f6' : colorbarColors[item[0]]);
    inner.appendChild(el);
  });

  const coast = document.createElementNS(SVGNS, 'path');
  
  
  coast.setAttribute('d', openCoasts.concat(borderList).map(c => straightPath(c, col, row)).join(''));
  coast.setAttribute('fill', 'none');
  coast.setAttribute('stroke', '#6a6a6a');
  coast.setAttribute('stroke-width', '2');
  coast.setAttribute('stroke-linejoin', 'round');
  inner.appendChild(coast);

  equatorSegments.forEach(seg => {
    const el = document.createElementNS(SVGNS, 'line');
    
    
    el.setAttribute('x1', f(lonToX(seg[0], col)));
    el.setAttribute('x2', f(lonToX(seg[1], col)));
    el.setAttribute('y1', f(latToY(0, row)));
    el.setAttribute('y2', f(latToY(0, row)));
    el.setAttribute('stroke', '#555');
    el.setAttribute('stroke-width', '1.7');
    el.setAttribute('stroke-dasharray', '6 5');
    inner.appendChild(el);
  });
  const meridian = document.createElementNS(SVGNS, 'line');
  
  
  meridian.setAttribute('x1', f(lonToX(0, col)));
  meridian.setAttribute('x2', f(lonToX(0, col)));
  meridian.setAttribute('y1', f(latToY(meridianSegment[0], row)));
  meridian.setAttribute('y2', f(latToY(meridianSegment[1], row)));
  meridian.setAttribute('stroke', '#555');
  meridian.setAttribute('stroke-width', '1.7');
  meridian.setAttribute('stroke-dasharray', '6 5');
  inner.appendChild(meridian);

  series.lines.forEach(item => {
    const pts = item[1];
    const first = pts[0], last = pts[pts.length - 1];
    const isClosed = first[0] === last[0] && first[1] === last[1];
    const el = document.createElementNS(SVGNS, 'path');
    
    
    el.setAttribute('d', smoothPath(isClosed ? pts.slice(0, -1) : pts, col, row, isClosed));
    el.setAttribute('fill', 'none');
    el.setAttribute('stroke', item[0]);
    el.setAttribute('stroke-width', '2');
    inner.appendChild(el);
  });

  if (series.core) {
    const el = document.createElementNS(SVGNS, 'path');
    
    
    el.setAttribute('d', smoothPath(series.core.slice(0, -1), col, row, true));
    el.setAttribute('fill', '#e00000');
    el.setAttribute('stroke', '#400');
    el.setAttribute('stroke-width', '1.5');
    inner.appendChild(el);
    const dot = document.createElementNS(SVGNS, 'circle');
    
    
    dot.setAttribute('cx', f(lonToX(-87.4, col)));
    dot.setAttribute('cy', f(latToY(19.6, row)));
    dot.setAttribute('r', '2.4');
    dot.setAttribute('fill', '#fff');
    inner.appendChild(dot);
  }

  // ticks
  let tickPath = '';
  for (let lon = -90; lon <= 90; lon += 10) {
    const len = lonTicks.includes(lon) ? 6 : 3;
    const x = f(lonToX(lon, col));
    tickPath += 'M' + x + ' ' + y0 + 'v' + (-len) + 'M' + x + ' ' + (y0 + 140) + 'v' + len;
  }
  for (let lat = -10; lat <= 30; lat += 2) {
    const len = lat % 10 === 0 ? 5 : 2.5;
    const y = f(latToY(lat, row));
    tickPath += 'M' + x0 + ' ' + y + 'h' + (-len) + 'M' + (x0 + 633) + ' ' + y + 'h' + len;
  }
  const ticks = document.createElementNS(SVGNS, 'path');
  
  
  ticks.setAttribute('d', tickPath);
  ticks.setAttribute('stroke', '#000');
  ticks.setAttribute('stroke-width', '2');
  ticks.setAttribute('fill', 'none');
  group.appendChild(ticks);

  const frame = document.createElementNS(SVGNS, 'rect');
  
  
  frame.setAttribute('x', x0);
  frame.setAttribute('y', y0);
  frame.setAttribute('width', 633);
  frame.setAttribute('height', 140);
  frame.setAttribute('fill', 'none');
  frame.setAttribute('stroke', '#000');
  frame.setAttribute('stroke-width', '3');
  group.appendChild(frame);

  if (col === 0) {
    latTicks.forEach((lat, i) => {
      const el = document.createElementNS(SVGNS, 'text');
      
      
      el.setAttribute('transform', 'translate(74,' + f(latToY(lat, row) + 12) + ') scale(0.95,1)');
      el.setAttribute('text-anchor', 'end');
      el.setAttribute('font-size', '36');
      el.textContent = latTickLabels[i];
      group.appendChild(el);
    });
  }
  if (row === 3) {
    lonTicks.forEach((lon, i) => {
      const el = document.createElementNS(SVGNS, 'text');
      
      
      el.setAttribute('transform', 'translate(' + f(lonToX(lon, col)) + ',940) scale(0.97,1)');
      el.setAttribute('text-anchor', 'middle');
      el.setAttribute('font-size', '36');
      el.textContent = lonTickLabels[i];
      group.appendChild(el);
    });
  }
}
panelSeries.forEach(drawPanel);

// ---------- colorbar ----------
(function(){
  const bar = document.getElementById('colorbar');
  const left = 230, top = 1003, cell = 603 / colorbarColors.length;
  colorbarColors.forEach((color, i) => {
    const el = document.createElementNS(SVGNS, 'rect');
    
    
    el.setAttribute('x', f(left + i * cell));
    el.setAttribute('y', top);
    el.setAttribute('width', f(cell));
    el.setAttribute('height', 23);
    el.setAttribute('fill', color);
    el.setAttribute('stroke', '#000');
    el.setAttribute('stroke-width', '1.5');
    bar.appendChild(el);
  });
  colorbarLabels.forEach((label, i) => {
    const el = document.createElementNS(SVGNS, 'text');
    
    
    el.setAttribute('transform', 'translate(' + f(left + (i + 1) * cell) + ',1055) scale(0.95,1)');
    el.setAttribute('text-anchor', 'middle');
    el.setAttribute('font-size', '31');
    el.textContent = label;
    bar.appendChild(el);
  });
})();
</script>
</body>
</html>
